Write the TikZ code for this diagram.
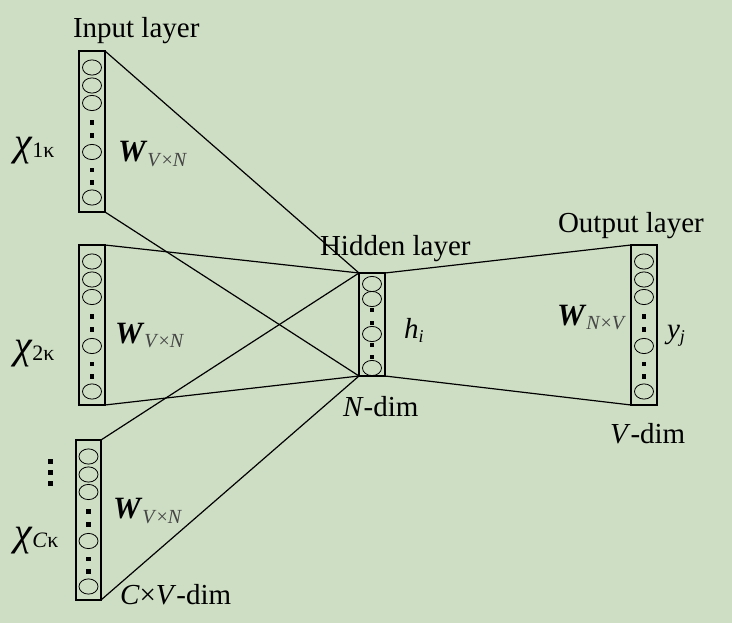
\documentclass[tikz,border=0pt]{standalone}
\usepackage{fontspec}
\setmainfont{Liberation Serif}
\definecolor{bgc}{RGB}{206,222,196}
\definecolor{subc}{RGB}{70,70,70}
\newcommand{\fsz}[1]{\fontsize{#1}{#1}\selectfont}
\newcommand{\Wlab}[2]{{\fsz{31}\textbf{\textit{W}}}\raisebox{-5pt}{\fsz{20}\color{subc}#1}}
\newcommand{\Xlab}[1]{{\fsz{40}\textit{χ}}\raisebox{-2pt}{\fsz{22}#1}}
\tikzset{
  layerbox/.style={draw, line width=1.2pt, minimum width=26pt, inner sep=0pt, outer sep=0pt},
  conn/.style={line width=1.2pt},
  lbl/.style={anchor=base west, inner sep=0pt, outer sep=0pt, font=\fsz{29}},
  unit/.style={line width=0.8pt},
}
\newcommand{\bigcol}{%
  \foreach \o in {16.5,34.5,52,101,146.5}{\draw[unit] (0,\o) ellipse [x radius=9.5pt, y radius=7.6pt];}
  \foreach \o in {71.5,84.5,119,131.5}{\fill (-2.3,{\o-2.3}) rectangle (2.3,{\o+2.3});}
}
\begin{document}
\begin{tikzpicture}[x=1pt,y=-1pt]
\fill[bgc] (0,0) rectangle (732,623);
\useasboundingbox (0,0) rectangle (732,623);

% layer boxes
\node[layerbox, minimum height=161pt] (in1) at (92,131.5) {};
\node[layerbox, minimum height=160pt] (in2) at (92,325) {};
\node[layerbox, minimum height=160pt, minimum width=25pt] (in3) at (88.5,520) {};
\node[layerbox, minimum height=103pt] (hid) at (372,324.5) {};
\node[layerbox, minimum height=160pt] (out) at (644,325) {};

% units
\begin{scope}[shift={(in1.north)}]\bigcol\end{scope}
\begin{scope}[shift={(in2.north)}]\bigcol\end{scope}
\begin{scope}[shift={(in3.north)}]\bigcol\end{scope}
\begin{scope}[shift={(out.north)}]\bigcol\end{scope}
\begin{scope}[shift={(hid.north)}]
  \foreach \o in {11,26,61,95}{\draw[unit] (0,\o) ellipse [x radius=9.5pt, y radius=7.6pt];}
  \foreach \o in {37,50,72,84}{\fill (-2.3,{\o-2.3}) rectangle (2.3,{\o+2.3});}
\end{scope}

% connectors
\draw[conn] (in1.north east) -- (hid.north west);
\draw[conn] (in1.south east) -- (hid.south west);
\draw[conn] (in2.north east) -- (hid.north west);
\draw[conn] (in2.south east) -- (hid.south west);
\draw[conn] (in3.north east) -- (hid.north west);
\draw[conn] (in3.south east) -- (hid.south west);
\draw[conn] (hid.north east) -- (out.north west);
\draw[conn] (hid.south east) -- (out.south west);

% vertical ellipsis on the left
\foreach \o in {461,472,483}{\fill (47.5,{\o-2.5}) rectangle (52.5,{\o+2.5});}

% texts
\node[lbl] (tin) at (73,38) {Input layer};
\node[lbl] (thid) at (320,256) {Hidden layer};
\node[lbl] (tout) at (558,233) {Output layer};
\node[lbl] (tn) at (343,416) {\textit{N}-dim};
\node[lbl] (tv) at (610,443) {\textit{V}-dim};
\node[lbl] (tcv) at (120,604) {\textit{C}×\textit{V}-dim};

\node[lbl] (x1) at (14,156) {\Xlab{1κ}};
\node[lbl] (x2) at (14,358) {\Xlab{2κ}};
\node[lbl] (x3) at (14,545) {\Xlab{\textit{C}κ}};

\node[lbl] (w1) at (118,162) {\Wlab{\textit{V}×\textit{N}}{}};
\node[lbl] (w2) at (115,343) {\Wlab{\textit{V}×\textit{N}}{}};
\node[lbl] (w3) at (113,518) {\Wlab{\textit{V}×\textit{N}}{}};
\node[lbl] (w4) at (557,325) {\Wlab{\textit{N}×\textit{V}}{}};

\node[lbl] (hi) at (404,338) {{\fsz{29}\textit{h}}\raisebox{-4pt}{\fsz{18}\textit{i}}};
\node[lbl] (yj) at (667,338) {{\fsz{29}\textit{y}}\raisebox{-4pt}{\fsz{18}\textit{j}}};
\end{tikzpicture}
\end{document}
